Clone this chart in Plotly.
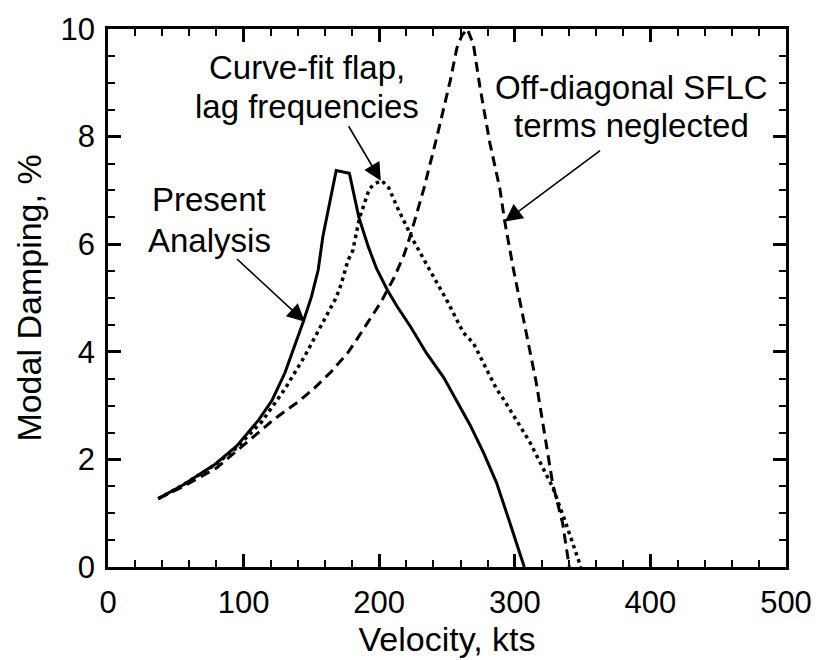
import plotly.graph_objects as go

# ---------------- data ----------------
present_v = [37, 55, 79, 95, 111, 121, 130.5, 137, 144, 150, 155, 158.5, 164.5, 168.3,
             178, 185, 192, 198, 206, 213, 223, 235, 247.6, 257, 267, 277, 286.5, 296, 307]
present_d = [1.27, 1.52, 1.91, 2.25, 2.73, 3.10, 3.61, 4.05, 4.56, 5.02, 5.52, 6.15, 6.90, 7.37,
             7.32, 6.50, 5.95, 5.55, 5.15, 4.85, 4.47, 3.97, 3.52, 3.09, 2.64, 2.12, 1.57, 0.85, 0.0]

curvefit_v = [37, 55, 79, 95, 113.4, 130.5, 145.1, 159.8, 168.3, 172, 176.8, 180.5, 185.4, 192.7,
              197, 202, 207, 213.4, 225.6, 237.7, 250, 262.2, 269.5, 286.5, 291.4, 310.9, 328,
              337.7, 348.7]
curvefit_d = [1.27, 1.52, 1.90, 2.22, 2.70, 3.31, 3.92, 4.59, 5.01, 5.26, 5.69, 5.88, 6.48, 7.03,
              7.13, 7.18, 7.05, 6.68, 6.05, 5.50, 4.95, 4.35, 4.16, 3.31, 3.13, 2.33, 1.48,
              0.81, 0.0]

offdiag_v = [37, 55, 80, 101.2, 123.2, 140.2, 152, 164.6, 176.8, 184, 192, 201.2, 211, 218.3,
             223.1, 232.9, 242.6, 252.4, 257.3, 261, 265, 269.5, 274.3, 281.6, 289, 292.6,
             298.8, 303.6, 315.8, 328, 335.3, 340.2]
offdiag_d = [1.27, 1.49, 1.84, 2.30, 2.76, 3.07, 3.32, 3.63, 3.98, 4.25, 4.56, 4.92, 5.38, 5.80,
             6.17, 7.03, 8.00, 9.04, 9.65, 9.88, 10.0, 9.71, 8.92, 7.88, 7.03, 6.42,
             5.56, 4.95, 3.43, 1.54, 0.81, 0.0]

x_ticks = [0, 100, 200, 300, 400, 500]
y_ticks = [0, 2, 4, 6, 8, 10]
x_range = [0, 500]
y_range = [0, 10]
x_minor_step = 20
y_minor_step = 0.5

FONT = "Liberation Sans, Arial, sans-serif"

fig = go.Figure()
fig.add_trace(go.Scatter(x=present_v, y=present_d, mode="lines",
                         line=dict(color="black", width=3), name="Present Analysis"))
fig.add_trace(go.Scatter(x=curvefit_v, y=curvefit_d, mode="lines",
                         line=dict(color="black", width=3.5, dash="3.5px,4px"),
                         name="Curve-fit flap, lag frequencies"))
fig.add_trace(go.Scatter(x=offdiag_v, y=offdiag_d, mode="lines",
                         line=dict(color="black", width=3, dash="10px,6px"),
                         name="Off-diagonal SFLC terms neglected"))
# empty traces that carry the extra axes (labels overlay, top and right frame sides)
for xa, ya in [("x2", "y2"), ("x3", "y"), ("x", "y3")]:
    fig.add_trace(go.Scatter(x=[], y=[], xaxis=xa, yaxis=ya, showlegend=False,
                             hoverinfo="skip"))

# text labels (one annotation per line)
labels = [
    ("Curve-fit flap,", 146.8, 9.29),
    ("lag frequencies", 146.8, 8.56),
    ("Off-diagonal SFLC", 386.4, 8.92),
    ("terms neglected", 386.4, 8.21),
    ("Present", 74.5, 6.83),
    ("Analysis", 74.5, 6.07),
]
for txt, x, y in labels:
    fig.add_annotation(x=x, y=y, xref="x", yref="y", text=txt, showarrow=False,
                       xanchor="center", yanchor="middle",
                       font=dict(family=FONT, size=33, color="black"))

# arrows: (tip_x, tip_y, tail_x, tail_y)
arrows = [
    (145.1, 4.56, 94.0, 5.75),
    (201.2, 7.18, 176.8, 8.22),
    (292.6, 6.42, 364.0, 7.76),
]
for tx, ty, ax, ay in arrows:
    fig.add_annotation(x=tx, y=ty, ax=ax, ay=ay, xref="x", yref="y", axref="x", ayref="y",
                       text="", showarrow=True, arrowhead=2, arrowsize=2.2, arrowwidth=1.6,
                       arrowcolor="black", standoff=0)

# frame sides with inside ticks (no labels), one axis per side
tick_axis = dict(showgrid=False, zeroline=False, showline=True, linecolor="black", linewidth=3,
                 mirror=False, ticks="inside", ticklen=13, tickwidth=3, tickcolor="black",
                 showticklabels=False, tickmode="linear")
x_tick_cfg = dict(range=x_range, tick0=x_ticks[0], dtick=x_ticks[1] - x_ticks[0],
                  minor=dict(tick0=x_ticks[0], dtick=x_minor_step, ticks="inside", ticklen=7,
                             tickwidth=2, tickcolor="black"), **tick_axis)
y_tick_cfg = dict(range=y_range, tick0=y_ticks[0], dtick=y_ticks[1] - y_ticks[0],
                  minor=dict(tick0=y_ticks[0], dtick=y_minor_step, ticks="inside", ticklen=7,
                             tickwidth=2, tickcolor="black"), **tick_axis)
# overlay axes: tick labels + titles only
label_axis = dict(showgrid=False, zeroline=False, showline=False, ticks="",
                  tickfont=dict(family=FONT, size=31, color="black"))

fig.update_layout(
    xaxis=dict(side="bottom", anchor="y", **x_tick_cfg),
    yaxis=dict(side="left", anchor="x", **y_tick_cfg),
    xaxis3=dict(side="top", anchor="y", overlaying="x", **x_tick_cfg),
    yaxis3=dict(side="right", anchor="x", overlaying="y", **y_tick_cfg),
    xaxis2=dict(range=x_range, overlaying="x", anchor="y2", side="bottom",
                tickmode="array", tickvals=x_ticks, ticktext=[str(v) for v in x_ticks],
                ticklabelstandoff=14,
                title=dict(text="Velocity, kts", font=dict(family=FONT, size=34, color="black"),
                           standoff=4),
                **label_axis),
    yaxis2=dict(range=y_range, overlaying="y", anchor="x2", side="left",
                tickmode="array", tickvals=y_ticks, ticktext=[str(v) for v in y_ticks],
                ticklabelstandoff=12,
                title=dict(text="Modal Damping, %", font=dict(family=FONT, size=34, color="black"),
                           standoff=8),
                **label_axis),
    width=824, height=660, margin=dict(l=108, r=32, t=24, b=89),
    plot_bgcolor="white", paper_bgcolor="white", showlegend=False,
    font=dict(family=FONT, color="black"),
)

fig.write_html("out.html")
